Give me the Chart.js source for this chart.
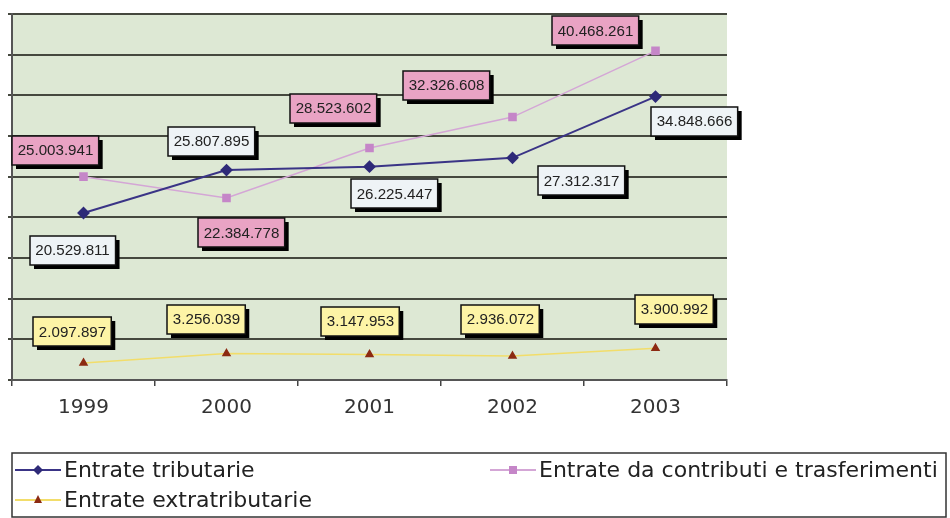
<!DOCTYPE html>
<html>
<head>
<meta charset="utf-8">
<script src="https://cdn.jsdelivr.net/npm/chart.js@4"></script>
<style>
  html, body { margin: 0; padding: 0; background: #fff; }
  #wrap { width: 950px; height: 518px; }
</style>
</head>
<body>
<div id="wrap"><canvas id="myChart" width="950" height="518"></canvas></div>
<script>
// dati
const years = ['1999', '2000', '2001', '2002', '2003'];
const tributarie = [20529811, 25807895, 26225447, 27312317, 34848666];
const contributi = [25003941, 22384778, 28523602, 32326608, 40468261];
const extratributarie = [2097897, 3256039, 3147953, 2936072, 3900992];
const seriesNames = ['Entrate tributarie', 'Entrate da contributi e trasferimenti', 'Entrate extratributarie'];

// spostamento etichette rispetto al punto (px)
const labelOffsets = [
  [[-11, 37], [-15, -29], [25, 27], [69, 23], [39, 25]],
  [[-28, -26], [15, 35], [-36, -40], [-66, -32], [-60, -20]],
  [[-11, -31], [-20, -34], [-9, -33], [-12, -37], [19, -39]]
];
const boxColors = ['#eef3f6', '#e9a3c4', '#fdf4a6'];

function fmt(v) {
  return String(v).replace(/\B(?=(\d{3})+(?!\d))/g, '.');
}

const boxPlugin = {
  id: 'boxPlugin',
  beforeDraw: function (chart) {
    var a = chart.chartArea, ctx = chart.ctx;
    ctx.save();
    ctx.fillStyle = '#dde8d4';
    ctx.fillRect(a.left, a.top, a.right - a.left, a.bottom - a.top);
    ctx.restore();
  },
  afterDraw: function (chart) {
    var ctx = chart.ctx;
    ctx.save();
    // etichette
    ctx.font = '14px "Liberation Sans", Arial, sans-serif';
    ctx.textAlign = 'center';
    ctx.textBaseline = 'middle';
    chart.data.datasets.forEach(function (ds, i) {
      var meta = chart.getDatasetMeta(i);
      meta.data.forEach(function (pt, j) {
        var off = labelOffsets[i][j];
        var cx = pt.x + off[0], cy = pt.y + off[1];
        var txt = fmt(ds.data[j]);
        var tw = ctx.measureText(txt).width * 1.08;
        var w = tw + 11, h = 29;
        var x = Math.round(cx - w / 2), y = Math.round(cy - h / 2);
        ctx.fillStyle = '#000';
        ctx.fillRect(x + 4, y + 4, w, h);
        ctx.fillStyle = boxColors[i];
        ctx.fillRect(x, y, w, h);
        ctx.lineWidth = 1.5;
        ctx.strokeStyle = '#111';
        ctx.strokeRect(x, y, w, h);
        ctx.fillStyle = '#222';
        ctx.save();
        ctx.translate(cx, cy + 1);
        ctx.scale(1.08, 1);
        ctx.fillText(txt, 0, 0);
        ctx.restore();
      });
    });
    // legenda
    ctx.lineWidth = 1.5;
    ctx.strokeStyle = '#333';
    ctx.strokeRect(12, 453, 934, 64);
    ctx.font = '22px "DejaVu Sans", Verdana, sans-serif';
    ctx.textAlign = 'left';
    var pos = [[15, 470], [490, 470], [15, 500]];
    chart.data.datasets.forEach(function (ds, i) {
      var x = pos[i][0], y = pos[i][1];
      ctx.strokeStyle = ds.borderColor;
      ctx.lineWidth = 2;
      ctx.beginPath();
      ctx.moveTo(x, y);
      ctx.lineTo(x + 46, y);
      ctx.stroke();
      ctx.fillStyle = ds.pointBackgroundColor;
      ctx.beginPath();
      if (i === 0) {
        ctx.moveTo(x + 23, y - 5); ctx.lineTo(x + 28, y); ctx.lineTo(x + 23, y + 5); ctx.lineTo(x + 18, y);
      } else if (i === 1) {
        ctx.rect(x + 19, y - 4, 8, 8);
      } else {
        ctx.moveTo(x + 23, y - 5); ctx.lineTo(x + 27, y + 3); ctx.lineTo(x + 19, y + 3);
      }
      ctx.closePath();
      ctx.fill();
      ctx.fillStyle = '#222';
      ctx.fillText(seriesNames[i], x + 49, y + 1);
    });
    ctx.restore();
  }
};

new Chart(document.getElementById('myChart'), {
  type: 'line',
  data: {
    labels: years,
    datasets: [
      {
        label: seriesNames[0],
        data: tributarie,
        borderColor: '#3a3486',
        pointBackgroundColor: '#2e2a78',
        pointBorderColor: '#2e2a78',
        pointStyle: 'rectRot',
        pointRadius: 5,
        borderWidth: 2
      },
      {
        label: seriesNames[1],
        data: contributi,
        borderColor: '#d4a6d6',
        pointBackgroundColor: '#c586c8',
        pointBorderColor: '#c586c8',
        pointStyle: 'rect',
        pointRadius: 5,
        borderWidth: 1.5
      },
      {
        label: seriesNames[2],
        data: extratributarie,
        borderColor: '#f2dd6a',
        pointBackgroundColor: '#8c2a12',
        pointBorderColor: '#8c2a12',
        pointStyle: 'triangle',
        pointRadius: 4,
        borderWidth: 1.5
      }
    ]
  },
  options: {
    responsive: false,
    animation: false,
    layout: { padding: { left: 8, right: 223, top: 14, bottom: 0 } },
    plugins: { legend: { display: false }, tooltip: { enabled: false } },
    scales: {
      x: {
        offset: true,
        grid: { drawOnChartArea: false, drawTicks: true, tickLength: 6, color: '#444', lineWidth: 1.5, offset: true },
        border: { color: '#555', width: 2 },
        ticks: { color: '#333', font: { family: '"DejaVu Sans", Verdana, sans-serif', size: 20 }, padding: 10 },
        afterFit: function (s) { s.height = 138; }
      },
      y: {
        min: 0,
        max: 45000000,
        ticks: { display: false, stepSize: 5000000 },
        grid: { color: '#45483e', lineWidth: 2, drawTicks: true, tickLength: 4 },
        border: { color: '#555', width: 2 },
        afterFit: function (s) { s.width = 4; }
      }
    }
  },
  plugins: [boxPlugin]
});
</script>
</body>
</html>
